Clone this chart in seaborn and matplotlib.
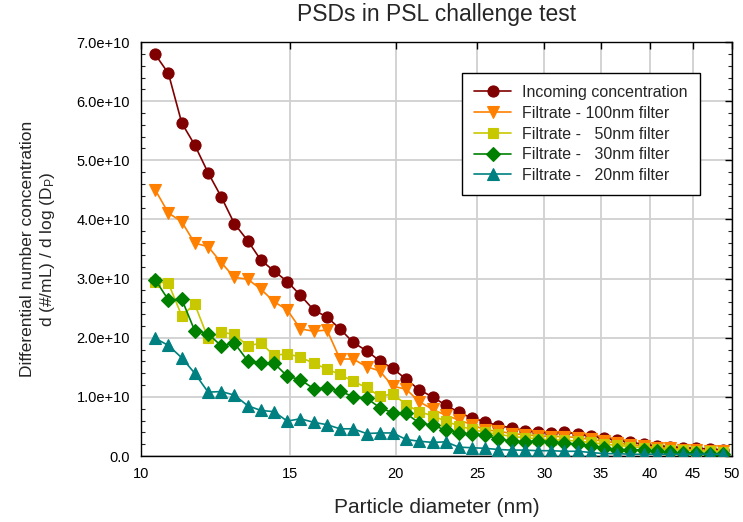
import numpy as np
import pandas as pd
import matplotlib
matplotlib.use("Agg")
import matplotlib.pyplot as plt
import seaborn as sns
from matplotlib.ticker import FuncFormatter, FixedLocator, MultipleLocator, NullLocator

# Particle diameters (nm), SMPS bin midpoints
diameter = [10.39, 10.77, 11.17, 11.57, 12.00, 12.44, 12.89, 13.37, 13.86, 14.36,
            14.89, 15.43, 16.00, 16.59, 17.19, 17.82, 18.48, 19.15, 19.85, 20.58,
            21.33, 22.12, 22.93, 23.76, 24.63, 25.54, 26.47, 27.44, 28.45, 29.49,
            30.57, 31.69, 32.85, 34.05, 35.29, 36.59, 37.93, 39.32, 40.75, 42.25,
            43.79, 45.40, 47.06, 48.78]

# dN/dlogDp in units of 1e10 #/mL
incoming = [6.79, 6.47, 5.63, 5.26, 4.79, 4.38, 3.93, 3.64, 3.31, 3.13,
            2.95, 2.72, 2.47, 2.35, 2.15, 1.92, 1.78, 1.61, 1.48, 1.30,
            1.12, 1.00, 0.86, 0.74, 0.64, 0.58, 0.51, 0.48, 0.43, 0.41,
            0.39, 0.41, 0.37, 0.34, 0.30, 0.27, 0.23, 0.20, 0.17, 0.16,
            0.14, 0.13, 0.12, 0.10]
filt100 = [4.50, 4.11, 3.96, 3.60, 3.54, 3.27, 3.02, 2.99, 2.82, 2.61,
           2.47, 2.15, 2.11, 2.13, 1.64, 1.64, 1.51, 1.44, 1.18, 1.13,
           0.92, 0.79, 0.69, 0.61, 0.53, 0.44, 0.42, 0.38, 0.36, 0.34,
           0.33, 0.33, 0.31, 0.28, 0.25, 0.22, 0.19, 0.17, 0.14, 0.13,
           0.11, 0.10, 0.09, 0.08]
filt50 = [2.95, 2.92, 2.37, 2.57, 1.99, 2.09, 2.06, 1.86, 1.91, 1.70,
          1.73, 1.67, 1.57, 1.47, 1.38, 1.26, 1.16, 1.01, 1.05, 0.87,
          0.75, 0.68, 0.59, 0.51, 0.45, 0.40, 0.37, 0.33, 0.31, 0.29,
          0.27, 0.27, 0.25, 0.23, 0.20, 0.18, 0.16, 0.14, 0.12, 0.11,
          0.10, 0.09, 0.08, 0.07]
filt30 = [2.98, 2.64, 2.65, 2.12, 2.07, 1.86, 1.91, 1.61, 1.58, 1.57,
          1.35, 1.29, 1.14, 1.15, 1.10, 1.00, 0.98, 0.82, 0.73, 0.72,
          0.56, 0.52, 0.44, 0.39, 0.37, 0.36, 0.28, 0.26, 0.24, 0.26,
          0.24, 0.22, 0.20, 0.17, 0.14, 0.11, 0.11, 0.10, 0.08, 0.06,
          0.05, 0.05, 0.04, 0.04]
filt20 = [1.99, 1.87, 1.66, 1.40, 1.08, 1.09, 1.03, 0.85, 0.77, 0.75,
          0.59, 0.63, 0.57, 0.53, 0.46, 0.46, 0.38, 0.39, 0.39, 0.28,
          0.25, 0.23, 0.24, 0.15, 0.14, 0.13, 0.11, 0.10, 0.10, 0.09,
          0.09, 0.08, 0.08, 0.06, 0.04, 0.04, 0.03, 0.03, 0.03, 0.03,
          0.03, 0.03, 0.03, 0.03]

series_names = ["Incoming concentration",
                "Filtrate - 100nm filter",
                "Filtrate -   50nm filter",
                "Filtrate -   30nm filter",
                "Filtrate -   20nm filter"]
series_values = [incoming, filt100, filt50, filt30, filt20]
colors = ["#800000", "#FF8000", "#C8C800", "#008000", "#008080"]
markers = ["o", "v", "s", "D", "^"]
msizes = [8, 8.5, 7, 7, 8.5]

x_ticks = [10, 15, 20, 25, 30, 35, 40, 45, 50]

sns.set_style("white")
plt.rcParams['font.family'] = ['Liberation Sans', 'DejaVu Sans']
plt.rcParams['mathtext.fontset'] = 'custom'
plt.rcParams['mathtext.rm'] = 'Liberation Sans'
plt.rcParams['mathtext.it'] = 'Liberation Sans'

fig = plt.figure(figsize=(7.43, 5.22), dpi=100)
ax = fig.add_axes([0.190, 0.1264, 0.795, 0.7931])

for name, vals, c, m, ms in zip(series_names, series_values, colors, markers, msizes):
    df = pd.DataFrame({"d": diameter, "v": np.array(vals) * 1e10})
    sns.lineplot(data=df, x="d", y="v", ax=ax, color=c, marker=m,
                 markersize=ms, markeredgecolor=c, markeredgewidth=0.8,
                 linewidth=1.2, label=name, zorder=3)

ax.set_xscale("log")
ax.set_xlim(10, 50)
ax.set_ylim(0, 7e10)
ax.xaxis.set_major_locator(FixedLocator(x_ticks))
ax.xaxis.set_minor_locator(NullLocator())
ax.xaxis.set_major_formatter(FuncFormatter(lambda v, p: f"{int(round(v))}"))
ax.yaxis.set_major_locator(MultipleLocator(1e10))
ax.yaxis.set_minor_locator(MultipleLocator(0.2e10))
ax.yaxis.set_major_formatter(FuncFormatter(lambda v, p: "0.0" if abs(v) < 1 else f"{v:.1e}"))

ax.grid(True, which="major", color="#d0d0d0", linewidth=1.3, zorder=0)
ax.set_axisbelow(True)
for s in ax.spines.values():
    s.set_color("black")
    s.set_linewidth(1.0)

ax.tick_params(axis="both", which="major", direction="in", length=5, width=1,
               top=True, right=True, labelsize=10.5, pad=8, colors="black")
ax.tick_params(axis="y", which="minor", direction="in", length=3, width=0.8,
               left=True, right=True)

ax.set_xlabel("Particle diameter (nm)", fontsize=15, labelpad=12)
ax.set_ylabel("Differential number concentration\nd (#/mL) / d log (D$_\\mathregular{P}$)",
              fontsize=12.5, labelpad=14)
ax.set_title("PSDs in PSL challenge test", fontsize=16.5, pad=15)

leg = ax.legend(loc="upper right", bbox_to_anchor=(0.946, 0.925), borderaxespad=0,
                fontsize=11.5, frameon=True, fancybox=False, edgecolor="black",
                framealpha=1, handlelength=2.35, handletextpad=0.7,
                borderpad=0.75, labelspacing=0.36)
leg.get_frame().set_linewidth(1.0)

fig.savefig("out.png", dpi=100)
